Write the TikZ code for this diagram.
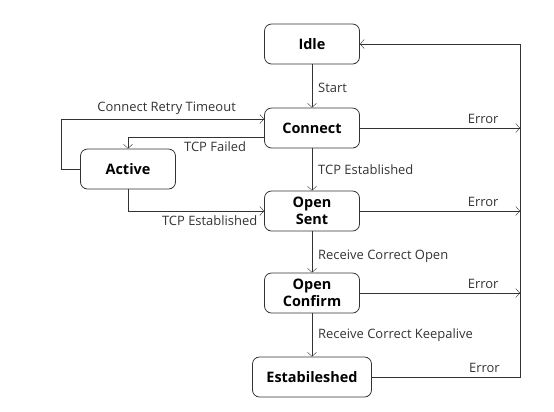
\documentclass[tikz,border=0pt]{standalone}
\usepackage{fontspec}
\setmainfont{Open Sans}
\usetikzlibrary{arrows.meta,positioning}
\definecolor{ink}{HTML}{333333}

\begin{document}
\begin{tikzpicture}[x=1bp,y=-1bp,
  state/.style={draw=ink, thick, rounded corners=7bp, minimum width=95bp, minimum height=40bp,
    align=center, font=\fontsize{14.5}{17}\selectfont\bfseries, inner sep=1bp},
  flow/.style={draw=ink, -{Straight Barb[length=4bp,width=9bp]}},
  lbl/.style={font=\fontsize{13}{15}\selectfont, text=ink, inner sep=2bp}]
\useasboundingbox (0,0) rectangle (554,411);
% states
\node[state] (idle) at (312,44) {Idle};
\node[state] (connect) at (312,128) {Connect};
\node[state] (active) at (128,169) {Active};
\node[state] (opensent) at (312,211) {Open\\Sent};
\node[state] (openconfirm) at (312,293) {Open\\Confirm};
\node[state, minimum width=119bp] (established) at (312,377) {Estabileshed};
\coordinate (bus) at (520,44);
% main sequence
\draw[flow] (idle) -- node[lbl, right=4bp, yshift=-2bp] {Start} (connect);
\draw[flow] (connect) -- node[lbl, right=4bp] {TCP Established} (opensent);
\draw[flow] (opensent) -- node[lbl, right=4bp, yshift=-4bp] {Receive Correct Open} (openconfirm);
\draw[flow] (openconfirm) -- node[lbl, right=4bp] {Receive Correct Keepalive} (established);
% active loop
\draw[flow] (active.west) -- ++(-19,0) |- node[lbl, pos=0.76, above=2bp] {Connect Retry Timeout} ([yshift=9bp]connect.west);
\draw[flow] ([yshift=-9bp]connect.west) -| node[lbl, pos=0.18, below=2bp] {TCP Failed} (active.north);
\draw[flow] (active.south) |- node[lbl, pos=0.8, below=2bp] {TCP Established} (opensent.west);
% error paths
\foreach \s in {connect, opensent, openconfirm} {
  \draw[flow] (\s.east) -- node[lbl, pos=0.77, above=2bp] {Error} (\s.east -| bus);
}
\draw[flow] (established.east) -- node[lbl, pos=0.76, above=2bp] {Error} (established.east -| bus)
  -- (bus) -- (idle.east);
\end{tikzpicture}
\end{document}
